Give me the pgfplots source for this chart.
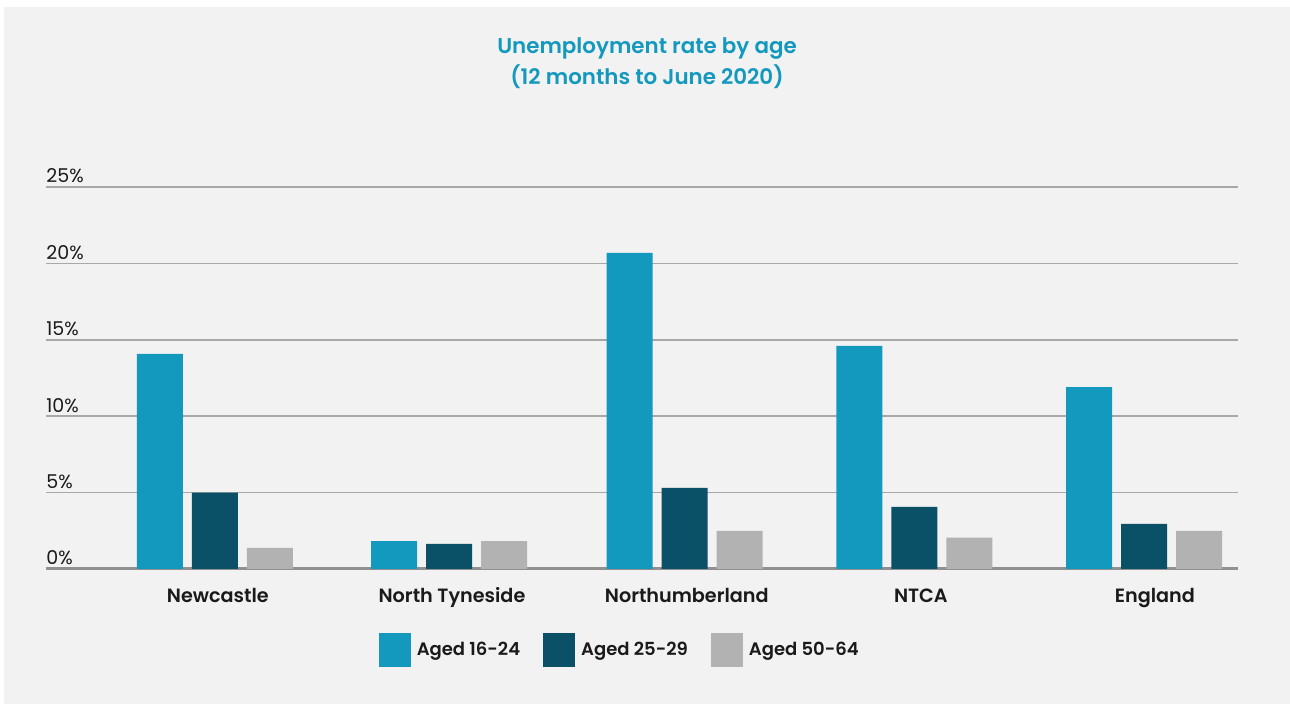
\documentclass[border=0pt]{standalone}
\usepackage{fontspec}
\setmainfont{Poppins}[BoldFont={Poppins SemiBold}]
\usepackage{pgfplots}
\pgfplotsset{compat=1.18}
\definecolor{bg}{HTML}{F2F2F2}
\definecolor{cTeal}{HTML}{1499BE}
\definecolor{cDark}{HTML}{0A5066}
\definecolor{cGrey}{HTML}{B2B2B2}
\definecolor{gridc}{HTML}{A8A8A8}
\definecolor{axisc}{HTML}{909090}
\definecolor{txt}{HTML}{1A1A1A}
\begin{document}
\begin{tikzpicture}[x=1pt,y=1pt]
\useasboundingbox (0,0) rectangle (645,352);
\fill[bg] (2,0) rectangle (645,348.5);
\node[font=\bfseries\fontsize{10.7}{15.5}\selectfont, text=cTeal, align=center] at (323.5,320.3) {Unemployment rate by age\\(12 months to June 2020)};
\begin{axis}[
  at={(23pt,67.5pt)}, anchor=south west,
  scale only axis, width=596pt, height=191pt,
  xmin=-0.728, xmax=4.41, ymin=0, ymax=25,
  ybar=4.5pt, bar width=23pt,
  axis line style={draw=none},
  major tick length=0pt,
  ymajorgrids, grid style={gridc, line width=0.75pt},
  ytick={5,10,15,20,25},
  yticklabels={5\%,10\%,15\%,20\%,25\%},
  extra y ticks={0}, extra y tick labels={0\%},
  extra y tick style={grid style={axisc, line width=1.5pt}},
  yticklabel style={anchor=base west, inner sep=0pt, yshift=2pt, text=txt, font=\fontsize{9.5}{12}\selectfont},
  xtick={0.013,1.022,2.034,3.043,4.052},
  xticklabels={Newcastle, North Tyneside, Northumberland, NTCA, England},
  xticklabel style={anchor=base, inner sep=0pt, yshift=-17pt, text=txt, font=\bfseries\fontsize{9.6}{11}\selectfont},
  legend columns=3,
  legend image code/.code={\draw[#1, draw=none] (0pt,-8.5pt) rectangle (16pt,8.5pt);},
  legend style={font=\bfseries\fontsize{9}{12}\selectfont, text=txt, draw=none, fill=none,
    at={(axis description cs:0.483,-0.212)}, anchor=center,
    nodes={inner sep=3pt},
    /tikz/every even column/.append style={column sep=8.5pt}},
]
\addplot[fill=cTeal, draw=none] coordinates {(0,14.07) (1.01,1.83) (2.025,20.68) (3.015,14.6) (4.005,11.9)};
\addplot[fill=cDark, draw=none] coordinates {(0,5.0) (1.01,1.64) (2.025,5.31) (3.015,4.07) (4.005,2.96)};
\addplot[fill=cGrey, draw=none] coordinates {(0,1.39) (1.01,1.83) (2.025,2.5) (3.015,2.05) (4.005,2.5)};
\legend{Aged 16-24, Aged 25-29, Aged 50-64}
\end{axis}
\end{tikzpicture}
\end{document}
